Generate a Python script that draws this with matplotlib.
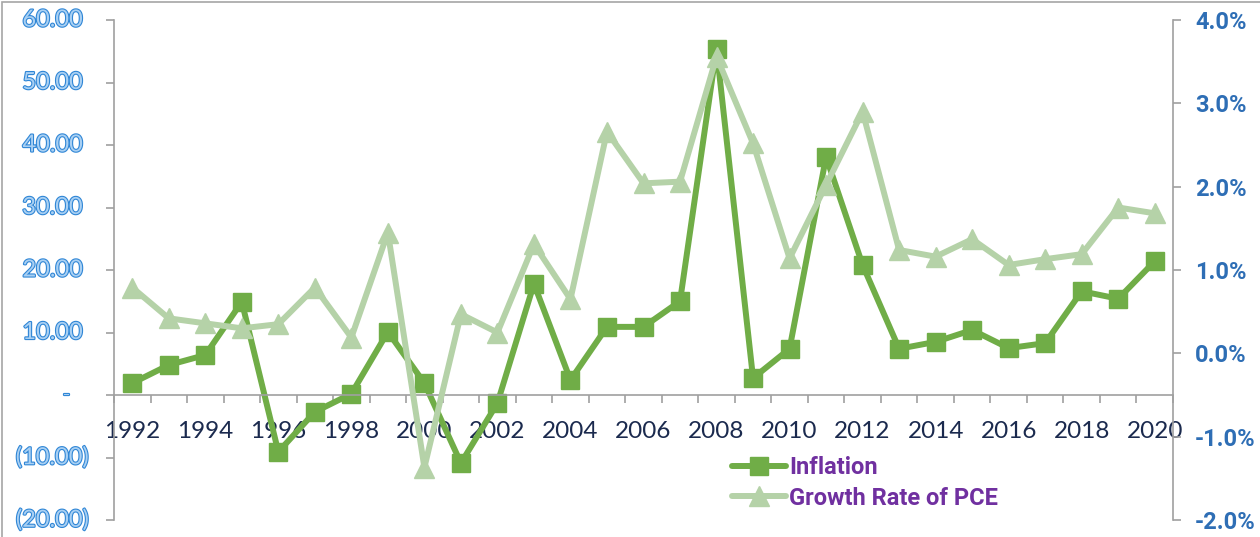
import matplotlib
matplotlib.use("Agg")
import matplotlib.pyplot as plt
import matplotlib.patheffects as pe
from matplotlib.patches import Rectangle
from matplotlib.transforms import offset_copy
import numpy as np

years = list(range(1992, 2021))
inflation = [1.9, 4.8, 6.4, 14.9, -9.1, -2.7, 0.2, 10.1, 1.9, -10.9,
             -1.3, 17.8, 2.4, 10.9, 10.9, 15.0, 55.4, 2.7, 7.4, 38.1,
             20.8, 7.4, 8.5, 10.4, 7.5, 8.3, 16.6, 15.4, 21.4]
pce_growth = [0.79, 0.42, 0.36, 0.30, 0.35, 0.79, 0.19, 1.45, -1.37, 0.47,
              0.25, 1.31, 0.65, 2.66, 2.04, 2.06, 3.56, 2.52, 1.14, 2.02,
              2.90, 1.24, 1.16, 1.37, 1.06, 1.13, 1.19, 1.75, 1.68]
left_ticks = [-20, -10, 0, 10, 20, 30, 40, 50, 60]
right_ticks = [-2, -1, 0, 1, 2, 3, 4]

plt.rcParams["font.family"] = ["Lato", "DejaVu Sans"]
BOLD_FONT = ["Roboto", "DejaVu Sans"]

DARK_GREEN = "#70AD47"
LIGHT_GREEN = "#B5D2A8"
AXIS_GRAY = "#A0A0A0"

fig = plt.figure(figsize=(12.6, 5.37), dpi=100)
ax = fig.add_axes([114 / 1260, 1 - 520 / 537, (1173 - 114) / 1260, 500 / 537])
ax2 = ax.twinx()

x = np.arange(len(years))
l1, = ax.plot(x, inflation, color=DARK_GREEN, lw=4.3, marker="s", ms=13.5,
              solid_capstyle="round", label="Inflation")
l2, = ax2.plot(x, pce_growth, color=LIGHT_GREEN, lw=4.3, marker="^", ms=14.5,
               solid_capstyle="round", label="Growth Rate of PCE")

ax.set_xlim(-0.5, len(years) - 0.5)
ax.set_ylim(-20, 60)
ax2.set_ylim(-2, 4)

# spines
for s in ["top", "right"]:
    ax.spines[s].set_visible(False)
for s in ["top", "left", "bottom"]:
    ax2.spines[s].set_visible(False)
ax.spines["bottom"].set_position(("data", 0))
for sp in [ax.spines["left"], ax.spines["bottom"], ax2.spines["right"]]:
    sp.set_color(AXIS_GRAY)
    sp.set_linewidth(1.2)

# x axis: labels on every other year, tick marks between categories
ax.set_xticks(x[::2])
ax.set_xticklabels([str(y) for y in years[::2]], fontsize=17.5, color="#1B2A4E")
ax.set_xticks(np.arange(-0.5, len(years), 1), minor=True)
ax.tick_params(axis="x", which="major", length=0, pad=19)
ax.tick_params(axis="x", which="minor", length=6, width=1.2, color=AXIS_GRAY,
               direction="out")

# left y axis: accounting-style labels
ax.set_yticks(left_ticks)
ax.set_yticklabels([])
ax.tick_params(axis="y", length=6, width=1.2, color=AXIS_GRAY, direction="out")
ytrans = ax.get_yaxis_transform()
for v in left_ticks:
    if v > 0:
        txt, dx = f"{v:.2f}", -31
    elif v < 0:
        txt, dx = f"({-v:.2f})", -25
    else:
        txt, dx = "-", -43
    ax.text(0, v, txt, transform=offset_copy(ytrans, fig=fig, x=dx, y=0, units="dots"),
            ha="right", va="center", fontsize=17, color="#A9D0F3",
            path_effects=[pe.withStroke(linewidth=1.6, foreground="#2F86D6")])

# right y axis
ax2.set_yticks(right_ticks)
ax2.set_yticklabels([f"{v:.1f}%" for v in right_ticks], fontsize=17,
                    fontweight="bold", family=BOLD_FONT, color="#2E6EB5")
ax2.tick_params(axis="y", length=6, width=1.2, color=AXIS_GRAY, direction="out", pad=10)

leg = ax2.legend([l1, l2], ["Inflation", "Growth Rate of PCE"], loc="upper left",
                 bbox_to_anchor=(732 / 1260, 1 - 456 / 537), bbox_transform=fig.transFigure,
                 frameon=False, prop={"family": BOLD_FONT, "weight": "bold", "size": 17},
                 handlelength=2.3, handletextpad=0.12, labelspacing=0.32,
                 borderpad=0, borderaxespad=0)
for t in leg.get_texts():
    t.set_color("#7030A0")

# chart border
fig.add_artist(Rectangle((2 / 1260, -0.01), 1.02, 1 - 1.5 / 537 + 0.01,
                         transform=fig.transFigure, fill=False,
                         edgecolor="#A6A6A6", lw=1.2))

fig.savefig("out.png", dpi=100)
